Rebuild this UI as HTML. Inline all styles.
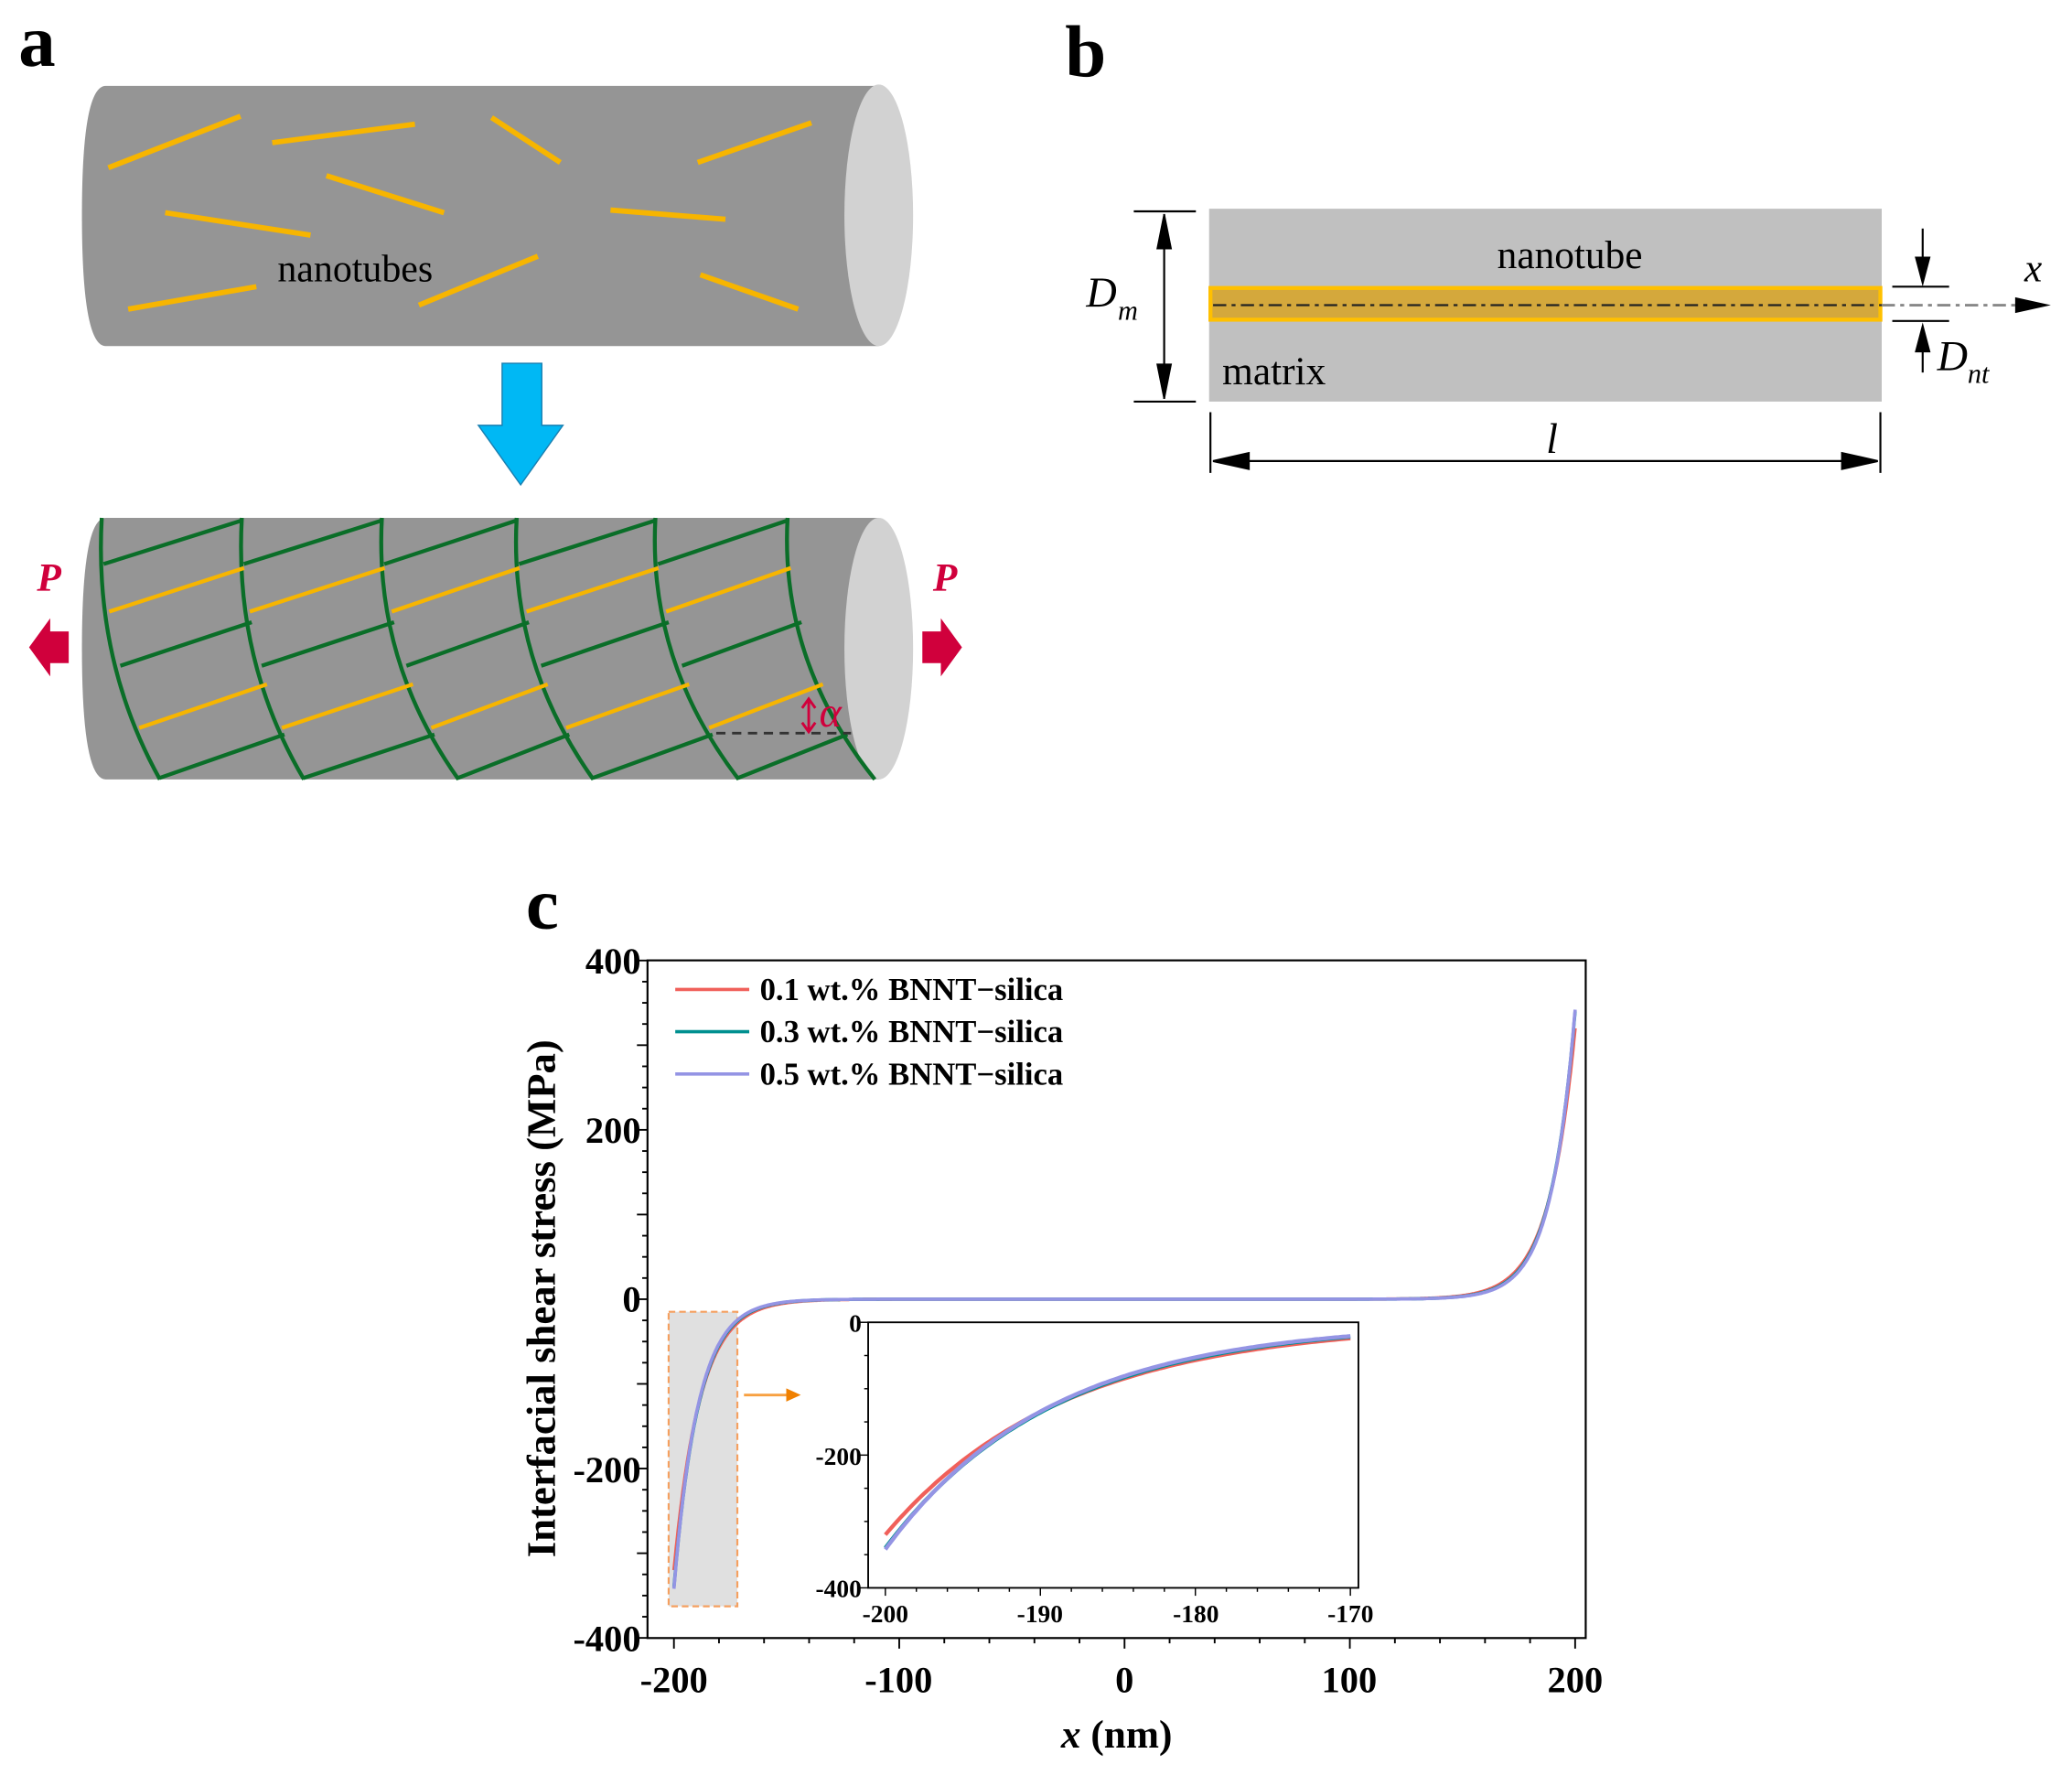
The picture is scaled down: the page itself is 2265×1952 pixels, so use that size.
<!DOCTYPE html>
<html><head><meta charset="utf-8"><style>
html,body{margin:0;padding:0;background:#fff;}
svg{display:block;}
text{font-family:"Liberation Serif",serif;}
</style></head><body>
<svg id="s" width="2265" height="1952" viewBox="0 0 1568 1352" preserveAspectRatio="none" xmlns="http://www.w3.org/2000/svg">
<rect width="1568" height="1352" fill="#fff"/>
<!-- Panel a -->
<text x="14" y="50" font-size="56" font-weight="bold">a</text>
<path d="M80,65 L665,65 L665,262 L80,262 Q62,262 62,163 Q62,65 80,65Z" fill="#959595"/>
<ellipse cx="665" cy="163" rx="26" ry="99" fill="#d2d2d2"/>
<g stroke="#f7b500" stroke-width="4">
<line x1="82" y1="127" x2="182" y2="88"/><line x1="206" y1="108" x2="314" y2="94"/>
<line x1="372" y1="89" x2="424" y2="123"/><line x1="528" y1="123" x2="614" y2="93"/>
<line x1="247" y1="133" x2="336" y2="161"/><line x1="125" y1="161" x2="235" y2="178"/>
<line x1="462" y1="159" x2="549" y2="166"/><line x1="317" y1="231" x2="407" y2="194"/>
<line x1="97" y1="234" x2="194" y2="217"/><line x1="530" y1="208" x2="604" y2="234"/>
</g>
<text x="210" y="213" font-size="29">nanotubes</text>
<path d="M380,275 L410,275 L410,322 L426,322 L394,367 L362,322 L380,322Z" fill="#00b8f4" stroke="#1a7fb0" stroke-width="1"/>
<path d="M80,392 L665,392 L665,590 L80,590 Q62,590 62,491 Q62,392 80,392Z" fill="#959595"/>
<ellipse cx="665" cy="491" rx="26" ry="99" fill="#d2d2d2"/>
<g id="helix" fill="none" stroke-width="3"></g>
<line x1="542" y1="555" x2="644" y2="555" stroke="#333" stroke-width="2" stroke-dasharray="7,5"/>
<path d="M612,531 L612,552 M607,536 L612,529 L617,536 M607,547 L612,554 L617,547" stroke="#d0003c" stroke-width="2" fill="none"/>
<text x="620" y="550" font-size="32" font-style="italic" fill="#d0003c">α</text>
<text x="28" y="447" font-size="30" font-style="italic" font-weight="bold" fill="#d0003c">P</text>
<text x="706" y="447" font-size="30" font-style="italic" font-weight="bold" fill="#d0003c">P</text>
<path d="M52,478 L38,478 L38,468 L22,490 L38,512 L38,502 L52,502Z" fill="#d0003c"/>
<path d="M698,478 L712,478 L712,468 L728,490 L712,512 L712,502 L698,502Z" fill="#d0003c"/>
<!-- Panel b -->
<text x="806" y="58" font-size="56" font-weight="bold">b</text>
<rect x="915" y="158" width="509" height="146" fill="#c0c0c0"/>
<rect x="916" y="218" width="507" height="24" fill="#d4a83c" stroke="#ffc000" stroke-width="3"/>
<line x1="918" y1="231" x2="1424" y2="231" stroke="#222" stroke-width="1.5" stroke-dasharray="10,4,3,4"/>
<line x1="1424" y1="231" x2="1530" y2="231" stroke="#888" stroke-width="2" stroke-dasharray="10,4,3,4"/>
<path d="M1525,225 L1552,231 L1525,237Z" fill="#000"/>
<text x="1532" y="213" font-size="30" font-style="italic">x</text>
<text x="1188" y="203" font-size="30" text-anchor="middle">nanotube</text>
<text x="925" y="291" font-size="30">matrix</text>
<g stroke="#000" stroke-width="1.5" fill="#000">
<line x1="858" y1="160" x2="905" y2="160"/><line x1="858" y1="304" x2="905" y2="304"/>
<line x1="881" y1="162" x2="881" y2="302"/>
<path d="M876,188 L881,163 L886,188Z"/><path d="M876,276 L881,301 L886,276Z"/>
<line x1="1432" y1="217" x2="1475" y2="217"/><line x1="1432" y1="243" x2="1475" y2="243"/>
<line x1="1455" y1="173" x2="1455" y2="200"/><path d="M1450,195 L1455,214 L1460,195Z"/>
<line x1="1455" y1="282" x2="1455" y2="262"/><path d="M1450,266 L1455,247 L1460,266Z"/>
<line x1="916" y1="312" x2="916" y2="358"/><line x1="1423" y1="312" x2="1423" y2="358"/>
<line x1="930" y1="349" x2="1410" y2="349"/>
<path d="M945,343 L918,349 L945,355Z"/><path d="M1394,343 L1421,349 L1394,355Z"/>
</g>
<text x="822" y="232" font-size="32" font-style="italic">D</text>
<text x="846" y="242" font-size="21" font-style="italic">m</text>
<text x="1466" y="280" font-size="32" font-style="italic">D</text>
<text x="1489" y="290" font-size="21" font-style="italic">nt</text>
<text x="1170" y="343" font-size="32" font-style="italic">l</text>
<!-- Panel c -->
<text x="398" y="703" font-size="56" font-weight="bold">c</text>
<rect x="506" y="993" width="52" height="223" fill="#e0e0e0" stroke="#f5a060" stroke-width="1.5" stroke-dasharray="5,3"/>
<line x1="563" y1="1056" x2="598" y2="1056" stroke="#f7a040" stroke-width="2"/>
<path d="M595,1051 L606,1056 L595,1061Z" fill="#f08000"/>
<g id="main"></g>
<rect x="490" y="727" width="710" height="513" fill="none" stroke="#000" stroke-width="1.5"/>
<g id="ticks" stroke="#000" stroke-width="1.3"></g>
<g font-size="28" font-weight="bold" text-anchor="end">
<text x="485" y="737">400</text><text x="485" y="865">200</text><text x="485" y="993">0</text>
<text x="485" y="1122">-200</text><text x="485" y="1250">-400</text>
</g>
<g font-size="28" font-weight="bold" text-anchor="middle">
<text x="510" y="1281">-200</text><text x="680" y="1281">-100</text><text x="851" y="1281">0</text>
<text x="1021" y="1281">100</text><text x="1192" y="1281">200</text>
</g>
<text x="845" y="1323" font-size="30" font-weight="bold" text-anchor="middle"><tspan font-style="italic">x</tspan> (nm)</text>
<text transform="translate(420,983) rotate(-90)" font-size="31" font-weight="bold" text-anchor="middle">Interfacial shear stress (MPa)</text>
<g stroke-width="2.5">
<line x1="511" y1="749" x2="567" y2="749" stroke="#f0605a"/>
<line x1="511" y1="781" x2="567" y2="781" stroke="#009090"/>
<line x1="511" y1="813" x2="567" y2="813" stroke="#9494e4"/>
</g>
<g font-size="24" font-weight="bold">
<text x="575" y="757">0.1 wt.% BNNT−silica</text>
<text x="575" y="789">0.3 wt.% BNNT−silica</text>
<text x="575" y="821">0.5 wt.% BNNT−silica</text>
</g>
<rect x="657" y="1001" width="371" height="201" fill="#fff"/>
<g id="inset"></g>
<rect x="657" y="1001" width="371" height="201" fill="none" stroke="#000" stroke-width="1.3"/>
<g id="iticks" stroke="#000" stroke-width="1"></g>
<g font-size="19" font-weight="bold" text-anchor="end">
<text x="652" y="1008">0</text><text x="652" y="1109">-200</text><text x="652" y="1209">-400</text>
</g>
<g font-size="19" font-weight="bold" text-anchor="middle">
<text x="670" y="1228">-200</text><text x="787" y="1228">-190</text><text x="905" y="1228">-180</text><text x="1022" y="1228">-170</text>
</g>
</svg>
<script>
var NS="http://www.w3.org/2000/svg";
function el(p,t,a){var e=document.createElementNS(NS,t);for(var k in a)e.setAttribute(k,a[k]);p.appendChild(e);return e;}
var h=document.getElementById('helix');
var tops=[77,183,289,391,496,596],bots=[121,230,347,449,559,662];
function cx(i,y){var t=(y-392)/198;return tops[i]+(bots[i]-tops[i])*t*t;}
for(var i=0;i<6;i++){el(h,'path',{d:'M'+tops[i]+',392 Q'+(tops[i]-6)+',500 '+bots[i]+',590',stroke:'#0a6e28'});}
var L=[[427,'#0a6e28'],[463,'#f7b500'],[504,'#0a6e28'],[551,'#f7b500'],[589,'#0a6e28']];
for(var c=0;c<5;c++){L.forEach(function(l){var y1=l[0];var x1=cx(c,y1);var y2=y1-33;var x2=cx(c+1,Math.max(392,y2));if(y2<392)y2=392;
if(y1>590){y1=590;x1=bots[c];}
el(h,'line',{x1:x1,y1:y1,x2:x2,y2:y2,stroke:l[1]});});}
function tau(u,A,Ls){return -A*Math.exp(-(u+200)/Ls)+A*Math.exp((u-200)/Ls);}
var S=[[320,11.6,'#f0605a'],[340,10.9,'#009090'],[342,10.7,'#9494e4']];
var m=document.getElementById('main'),ins=document.getElementById('inset');
S.forEach(function(s){var d='';for(var u=-200;u<=200;u+=0.5){var X=851+u*1.705,Y=983.5-tau(u,s[0],s[1])*0.641;d+=(d?'L':'M')+X.toFixed(1)+','+Y.toFixed(1);}
el(m,'path',{d:d,fill:'none',stroke:s[2],'stroke-width':2.5});
var d2='';for(var u=-200;u<=-170;u+=0.25){var X=670+(u+200)*11.73,Y=1001-tau(u,s[0],s[1])*0.5025;d2+=(d2?'L':'M')+X.toFixed(1)+','+Y.toFixed(1);}
el(ins,'path',{d:d2,fill:'none',stroke:s[2],'stroke-width':3});});
var tk=document.getElementById('ticks');
for(var v=-400;v<=400;v+=25){var Y=983.5-v*0.641;var len=(v%100==0)?8:4;el(tk,'line',{x1:490-len,y1:Y,x2:490,y2:Y});}
for(var u=-200;u<=200;u+=20){var X=851+u*1.705;var len=(u%100==0)?8:4;el(tk,'line',{x1:X,y1:1240,x2:X,y2:1240+len});}
var it=document.getElementById('iticks');
for(var u=-200;u<=-170;u+=2){var X=670+(u+200)*11.73;var len=(u%10==0)?6:3;el(it,'line',{x1:X,y1:1202,x2:X,y2:1202+len});}
for(var v=-400;v<=0;v+=50){var Y=1001-v*0.5025;var len=(v%200==0)?6:3;el(it,'line',{x1:657-len,y1:Y,x2:657,y2:Y});}
</script>
</body></html>
